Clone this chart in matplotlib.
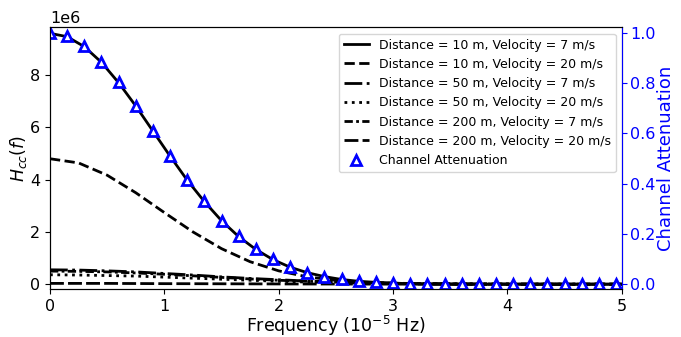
import numpy as np
import matplotlib
matplotlib.use("Agg")
import matplotlib.pyplot as plt

# ---- data ----
# curves, sampled every 0.25 (x in 1e-5 Hz), values in 1e6
freq = np.arange(0, 5.01, 0.25)
h_10_20 = [4.80, 4.64, 4.17, 3.50, 2.74, 2.00, 1.36, 0.86, 0.51, 0.28, 0.145,
           0.07, 0.03, 0.01, 0.005, 0, 0, 0, 0, 0, 0]
h_50_7 = [0.55, 0.54, 0.51, 0.47, 0.41, 0.35, 0.28, 0.22, 0.17, 0.12, 0.085,
          0.057, 0.037, 0.023, 0.014, 0.008, 0.004, 0.002, 0, 0, 0]
h_50_20 = [0.36, 0.35, 0.33, 0.31, 0.27, 0.23, 0.19, 0.15, 0.11, 0.08, 0.055,
           0.037, 0.024, 0.015, 0.009, 0.005, 0.003, 0.001, 0, 0, 0]
h_200_7 = [0.50, 0.49, 0.47, 0.43, 0.38, 0.32, 0.26, 0.20, 0.15, 0.11, 0.077,
           0.052, 0.034, 0.021, 0.013, 0.007, 0.004, 0.002, 0, 0, 0]
h_200_20 = [0.03, 0.03, 0.03, 0.025, 0.02, 0.018, 0.015, 0.012, 0.009, 0.007,
            0.005, 0.003, 0.002, 0.001, 0, 0, 0, 0, 0, 0, 0]

# main curve + attenuation markers, sampled every 0.15
freq_att = np.arange(34) * 0.15
h_10_7 = [9.60, 9.47, 9.09, 8.49, 7.71, 6.82, 5.86, 4.90, 3.98, 3.16, 2.43,
          1.82, 1.33, 0.94, 0.65, 0.44, 0.29, 0.18, 0.11, 0.07, 0.04, 0.02,
          0.01] + [0] * 11
atten = [1.00, 0.986, 0.947, 0.884, 0.803, 0.71, 0.61, 0.51, 0.415, 0.329,
         0.253, 0.19, 0.138, 0.098, 0.068, 0.046, 0.030, 0.019, 0.012, 0.007,
         0.004, 0.002, 0.001] + [0] * 11

fig = plt.figure(figsize=(6.81, 3.37), dpi=100)
ax = fig.add_axes([0.0734, 0.142, 0.8396, 0.777])
ax2 = ax.twinx()

lw = 2
l1, = ax.plot(np.append(freq_att, 5.0), np.append(h_10_7, 0) * 1e6, 'k-', lw=lw,
              label="Distance = 10 m, Velocity = 7 m/s")
l2, = ax.plot(freq, np.array(h_10_20) * 1e6, 'k--', lw=lw,
              label="Distance = 10 m, Velocity = 20 m/s")
l3, = ax.plot(freq, np.array(h_50_7) * 1e6, 'k-.', lw=lw,
              label="Distance = 50 m, Velocity = 7 m/s")
l4, = ax.plot(freq, np.array(h_50_20) * 1e6, 'k:', lw=lw,
              label="Distance = 50 m, Velocity = 20 m/s")
l5, = ax.plot(freq, np.array(h_200_7) * 1e6, color='k', lw=lw,
              linestyle=(0, (3, 1.2, 1, 1.2)),
              label="Distance = 200 m, Velocity = 7 m/s")
l6, = ax.plot(freq, np.array(h_200_20) * 1e6, color='k', lw=lw,
              linestyle=(0, (5, 1.5)),
              label="Distance = 200 m, Velocity = 20 m/s")

l7, = ax2.plot(freq_att, atten, linestyle='none', marker='^', ms=7.5,
               mfc='white', mec='blue', mew=2, label="Channel Attenuation")

ax.set_xlim(0, 5)
ax.set_ylim(-0.19e6, 9.83e6)
ax2.set_ylim(-0.02, 1.0215)

ax.set_xlabel(r"Frequency ($10^{-5}$ Hz)", fontsize=12.5, labelpad=0)
ax.set_ylabel(r"$H_{cc}(f)$", fontsize=12.5, labelpad=1)
ax2.set_ylabel("Channel Attenuation", color='blue', fontsize=13, labelpad=1)
ax.tick_params(labelsize=11.5)
ax.yaxis.get_offset_text().set_fontsize(11.5)
ax2.tick_params(axis='y', labelsize=11.5, colors='blue', pad=2.5)
ax2.spines['right'].set_color('blue')

ax2.legend(handles=[l1, l2, l3, l4, l5, l6, l7], loc='upper right', fontsize=9.0)

fig.savefig("out.png", dpi=100)
